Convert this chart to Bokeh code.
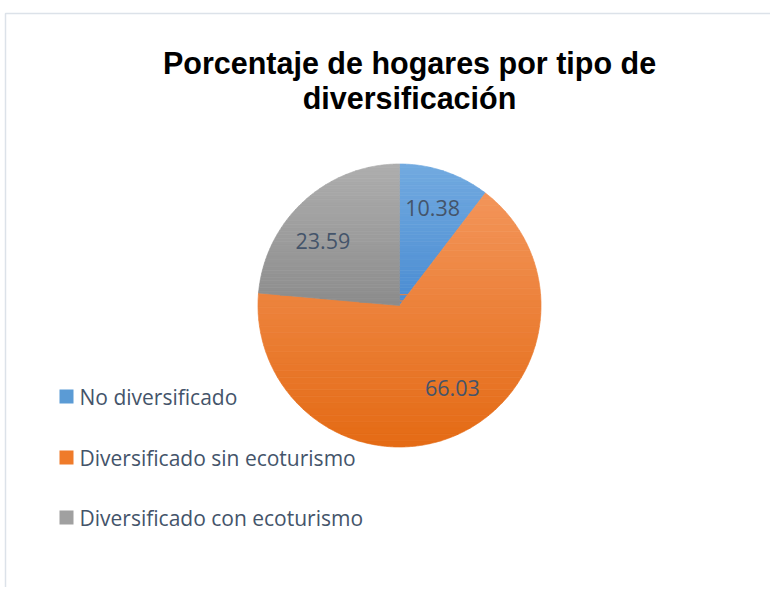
import math
from bokeh.plotting import figure
from bokeh.models import Range1d
from bokeh.core.properties import value
from bokeh.embed import file_html
from bokeh.resources import INLINE

# ---- data ----
categories = ["No diversificado", "Diversificado sin ecoturismo", "Diversificado con ecoturismo"]
values = [10.38, 66.03, 23.59]
label_texts = ["10.38", "66.03", "23.59"]
title_lines = ["Porcentaje de hogares por tipo de", "diversificación"]

# ---- style ----
top_colors = ["#72AAE0", "#F3955A", "#AEAEAE"]
bot_colors = ["#4A8CD2", "#E46A14", "#8C8C8C"]
legend_colors = ["#5B9BD5", "#EF7B2A", "#A0A0A0"]
text_color = "#44546A"
W, H = 770, 587


def X(sx):
    return sx


def Y(sy):
    return H - sy


def hex2rgb(h):
    h = h.lstrip("#")
    return tuple(int(h[i:i + 2], 16) for i in (0, 2, 4))


def mix(c0, c1, t):
    a, b = hex2rgb(c0), hex2rgb(c1)
    return "#%02x%02x%02x" % tuple(int(round(a[i] + (b[i] - a[i]) * t)) for i in range(3))


def clip(poly, yv, keep_above):
    out = []
    n = len(poly)
    for i in range(n):
        p1, p2 = poly[i], poly[(i + 1) % n]
        in1 = (p1[1] >= yv) if keep_above else (p1[1] <= yv)
        in2 = (p2[1] >= yv) if keep_above else (p2[1] <= yv)
        if in1:
            out.append(p1)
        if in1 != in2:
            t = (yv - p1[1]) / (p2[1] - p1[1])
            out.append((p1[0] + t * (p2[0] - p1[0]), yv))
    return out


p = figure(width=W, height=H, output_backend="svg", toolbar_location=None,
           x_range=Range1d(0, W), y_range=Range1d(0, H), min_border=0)
p.axis.visible = False
p.grid.visible = False
p.outline_line_color = None
p.background_fill_color = "white"
p.border_fill_color = "white"

# chart-area border like the reference
p.line(x=[X(5), X(5), X(W + 10)], y=[Y(H + 10), Y(13), Y(13)], line_color="#DCE2E9", line_width=1.5)

cx, cy, r = X(399), Y(305), 141.5
total = sum(values)
cum = 0.0
starts, ends, mids = [], [], []
for v in values:
    a0 = math.pi / 2 - 2 * math.pi * cum / total
    cum += v
    a1 = math.pi / 2 - 2 * math.pi * cum / total
    starts.append(a0)
    ends.append(a1)
    mids.append((a0 + a1) / 2)

# slices with vertical gradient (bands clipped to each slice)
NB = 40
xs, ys, fills = [], [], []
for i in range(len(values)):
    a0, a1 = starts[i], ends[i]
    n = max(8, int(abs(a1 - a0) * 120))
    poly = [(cx, cy)] + [(cx + r * math.cos(a0 + (a1 - a0) * k / n),
                          cy + r * math.sin(a0 + (a1 - a0) * k / n)) for k in range(n + 1)]
    ytop = max(q[1] for q in poly)
    ybot = min(q[1] for q in poly)
    for b in range(NB):
        hi = ytop - (ytop - ybot) * b / NB
        lo = ytop - (ytop - ybot) * (b + 1) / NB
        part = clip(clip(poly, lo, True), hi, False)
        if len(part) < 3:
            continue
        xs.append([q[0] for q in part])
        ys.append([q[1] for q in part])
        fills.append(mix(top_colors[i], bot_colors[i], (b + 0.5) / NB))

p.patches(xs=xs, ys=ys, fill_color=fills, line_color=fills, line_width=0.7)

# data labels
label_font = value("Open Sans")
lab_dist = [0.73, 0.69, 0.71]
lab_rot = [0.0, 9.0, 7.3]
lx = [cx + r * f * math.cos(m + math.radians(d)) for f, m, d in zip(lab_dist, mids, lab_rot)]
ly = [cy + r * f * math.sin(m + math.radians(d)) for f, m, d in zip(lab_dist, mids, lab_rot)]
p.text(x=lx, y=ly, text=label_texts, text_font=label_font, text_font_size="21.5px",
       text_color=text_color, text_align="center", text_baseline="middle")

# legend
leg_y = [Y(396), Y(457), Y(517)]
p.rect(x=[X(66)] * 3, y=leg_y, width=14, height=14, fill_color=legend_colors, line_color=None)
p.text(x=[X(79)] * 3, y=leg_y, text=categories, text_font=label_font, text_font_size="21px",
       text_color=text_color, text_align="left", text_baseline="middle")

# title
p.text(x=[X(409)] * 2, y=[Y(62), Y(97)], text=title_lines, text_font=value("Liberation Sans"),
       text_font_size="30.5px", text_font_style="bold", text_color="black",
       text_align="center", text_baseline="alphabetic")

open("out.html", "w").write(file_html(p, INLINE))
